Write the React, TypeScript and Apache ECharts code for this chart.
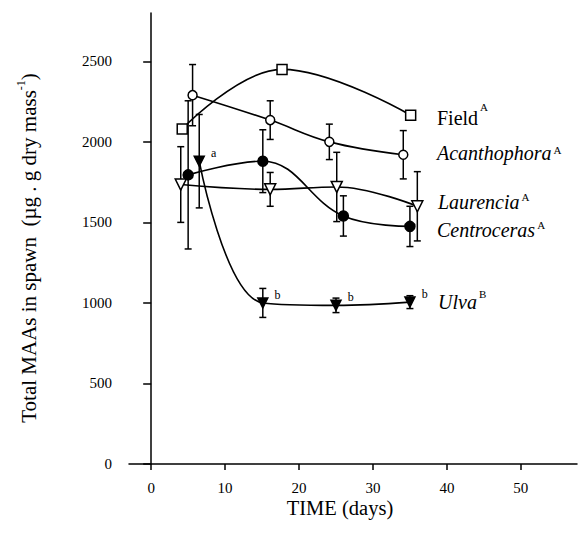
import React, { useEffect, useRef } from "react";
import * as echarts from "echarts";

const xTicks = [0, 10, 20, 30, 40, 50];
const yTicks = [0, 500, 1000, 1500, 2000, 2500];

const fieldDays = [4.2, 17.7, 35.1];
const fieldValues = [2080, 2450, 2165];

const acanDays = [5.6, 16.1, 24.1, 34.1];
const acanValues = [2290, 2135, 2000, 1920];
const acanErr = [190, 120, 110, 150];

const centDays = [5.0, 15.1, 26.0, 35.0];
const centValues = [1795, 1880, 1540, 1475];
const centErr = [460, 195, 125, 125];

const laurDays = [4.0, 16.1, 25.1, 36.0];
const laurValues = [1735, 1705, 1720, 1600];
const laurErr = [235, 105, 215, 215];

const ulvaDays = [6.5, 15.1, 25.0, 35.0];
const ulvaValues = [1880, 1000, 985, 1005];
const ulvaErr = [290, 90, 45, 40];
const ulvaLetters = ["a", "b", "b", "b"];

const FONT = "'Liberation Serif', serif";

function pts(days: number[], vals: number[]) {
  return days.map((d, i) => [d, vals[i]]);
}

function errData(days: number[], vals: number[], errs: number[]) {
  return days.map((d, i) => [d, vals[i], errs[i]]);
}

function errSeries(data: number[][]) {
  return {
    type: "custom",
    z: 1,
    silent: true,
    data,
    renderItem: (_params: any, api: any) => {
      const x = api.value(0);
      const y = api.value(1);
      const e = api.value(2);
      const top = api.coord([x, y + e]);
      const bot = api.coord([x, y - e]);
      const w = 3.5;
      const st = { stroke: "#000", lineWidth: 1.5 };
      return {
        type: "group",
        children: [
          { type: "line", shape: { x1: top[0], y1: top[1], x2: bot[0], y2: bot[1] }, style: st },
          { type: "line", shape: { x1: top[0] - w, y1: top[1], x2: top[0] + w, y2: top[1] }, style: st },
          { type: "line", shape: { x1: bot[0] - w, y1: bot[1], x2: bot[0] + w, y2: bot[1] }, style: st },
        ],
      };
    },
  };
}

function lineSeries(name: string, data: number[][], symbol: string, size: number, filled: boolean, rotate = 0) {
  return {
    name,
    type: "line",
    data,
    smooth: 0.4,
    symbol,
    symbolSize: size,
    symbolRotate: rotate,
    showAllSymbol: true,
    z: 3,
    lineStyle: { color: "#000", width: 1.6 },
    itemStyle: {
      color: filled ? "#000" : "#fff",
      borderColor: "#000",
      borderWidth: 1.5,
    },
  };
}

export default function App() {
  const ref = useRef<HTMLDivElement>(null);
  useEffect(() => {
    if (!ref.current) return;
    const chart = echarts.init(ref.current, undefined, { renderer: "svg" });
    const labelRich = (name: string, sup: string, italic: boolean, raise: number, x: number, baseline: number) => ({
      type: "text",
      x,
      y: baseline + 5,
      style: {
        text: `{n|${name}}{s|${sup}}`,
        verticalAlign: "bottom",
        rich: {
          n: { fontFamily: FONT, fontSize: 20, fontStyle: italic ? "italic" : "normal", fill: "#000", verticalAlign: "bottom", lineHeight: 22 },
          s: { fontFamily: FONT, fontSize: 11, fill: "#000", verticalAlign: "bottom", lineHeight: 12, padding: [0, 0, raise, 2] },
        },
        fill: "#000",
      },
    });
    const option: any = {
      animation: false,
      backgroundColor: "#fff",
      textStyle: { fontFamily: FONT },
      grid: { left: 129, right: 1, top: 13, bottom: 74 },
      xAxis: {
        type: "value",
        min: -3,
        max: 57.6,
        axisLine: { lineStyle: { color: "#000", width: 1.5 } },
        axisTick: { customValues: xTicks, length: 6, lineStyle: { color: "#000", width: 1.5 } },
        axisLabel: {
          customValues: xTicks,
          margin: 16,
          fontFamily: FONT,
          fontSize: 15,
          color: "#000",
          formatter: (v: number) => String(v),
        },
        splitLine: { show: false },
      },
      yAxis: {
        type: "value",
        min: 0,
        max: 2800,
        axisLine: { show: true, lineStyle: { color: "#000", width: 1.5 } },
        axisTick: { show: true, customValues: yTicks, length: 8, lineStyle: { color: "#000", width: 1.5 } },
        axisLabel: {
          customValues: yTicks,
          margin: 17,
          fontFamily: FONT,
          fontSize: 15,
          color: "#000",
          formatter: (v: number) => String(v),
        },
        splitLine: { show: false },
      },
      series: [
        errSeries(errData(acanDays, acanValues, acanErr)),
        errSeries(errData(centDays, centValues, centErr)),
        errSeries(errData(laurDays, laurValues, laurErr)),
        errSeries(errData(ulvaDays, ulvaValues, ulvaErr)),
        lineSeries("Field", pts(fieldDays, fieldValues), "rect", 10, false),
        lineSeries("Acanthophora", pts(acanDays, acanValues), "circle", 9, false),
        lineSeries("Centroceras", pts(centDays, centValues), "circle", 10, true),
        lineSeries("Laurencia", pts(laurDays, laurValues), "triangle", 11, false, 180),
        {
          ...lineSeries("Ulva", pts(ulvaDays, ulvaValues), "triangle", 10, true, 180),
          label: {
            show: true,
            position: "right",
            distance: 6,
            offset: [0, -8],
            fontFamily: FONT,
            fontSize: 12,
            color: "#000",
            formatter: (p: any) => ulvaLetters[p.dataIndex],
          },
        },
      ],
      graphic: [
        labelRich("Field", "A", false, 15, 437, 122.7),
        labelRich("Acanthophora", "A", true, 8, 437, 158.3),
        labelRich("Laurencia", "A", true, 10, 438, 207.3),
        labelRich("Centroceras", "A", true, 10, 437, 235),
        labelRich("Ulva", "B", true, 12, 438, 306.7),
        {
          type: "text",
          x: 340,
          y: 508,
          style: { text: "TIME (days)", fontFamily: FONT, fontSize: 20.5, fill: "#000", align: "center", verticalAlign: "middle" },
        },
        {
          type: "text",
          x: 27,
          y: 248,
          rotation: Math.PI / 2,
          style: {
            text: "{a|Total MAAs in spawn  (µg . g dry mass}{b|-1}{a|)}",
            align: "center",
            verticalAlign: "middle",
            rich: {
              a: { fontFamily: FONT, fontSize: 21, fill: "#000", verticalAlign: "bottom", lineHeight: 24 },
              b: { fontFamily: FONT, fontSize: 12, fill: "#000", verticalAlign: "top" },
            },
          },
        },
      ],
    };
    chart.setOption(option);
    return () => chart.dispose();
  }, []);
  return <div ref={ref} style={{ position: "fixed", left: 0, top: 0, width: 578, height: 538 }} />;
}
